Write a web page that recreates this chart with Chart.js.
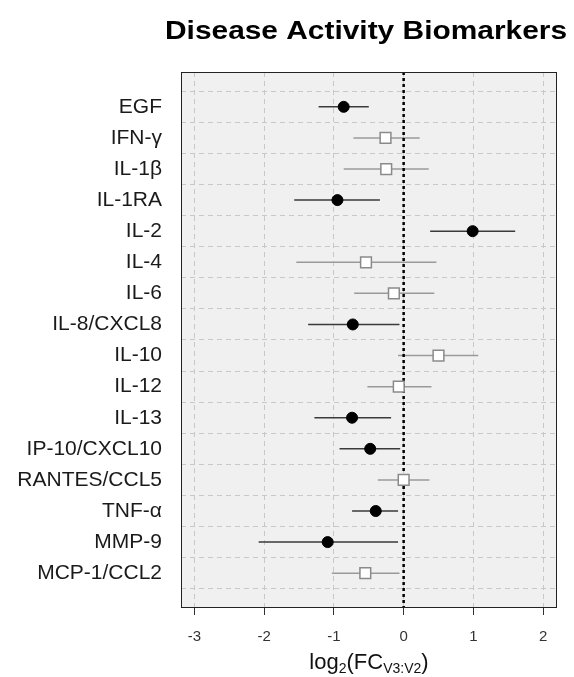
<!DOCTYPE html>
<html>
<head>
<meta charset="utf-8">
<script src="https://cdn.jsdelivr.net/npm/chart.js@4.4.1/dist/chart.umd.min.js"></script>
<style>
    html, body { margin: 0; padding: 0; background: #fff; }
    #wrap { position: relative; width: 574px; height: 677px; }
    #xlabel {
        position: absolute; left: 181px; width: 376px; top: 649px;
        text-align: center; font: 22px "Liberation Sans", Arial, sans-serif; color: #111;
    }
    #xlabel sub { font-size: 14px; vertical-align: -4px; }
</style>
</head>
<body>
<div id="wrap">
    <canvas id="chart" width="574" height="677"></canvas>
    <div id="xlabel">log<sub>2</sub>(FC<sub>V3:V2</sub>)</div>
</div>
<script>
// biomarkers, top to bottom
const categories = ['EGF', 'IFN-γ', 'IL-1β', 'IL-1RA', 'IL-2', 'IL-4', 'IL-6', 'IL-8/CXCL8',
    'IL-10', 'IL-12', 'IL-13', 'IP-10/CXCL10', 'RANTES/CCL5', 'TNF-α', 'MMP-9', 'MCP-1/CCL2'];
// log2 fold change and interval ends
const estimate = [-0.86, -0.26, -0.25, -0.95, 0.99, -0.54, -0.14, -0.73, 0.50, -0.07, -0.74, -0.48, 0.00, -0.40, -1.09, -0.55];
const lower = [-1.22, -0.72, -0.86, -1.57, 0.38, -1.54, -0.71, -1.37, -0.08, -0.52, -1.28, -0.92, -0.37, -0.74, -2.08, -1.03];
const upper = [-0.50, 0.23, 0.36, -0.34, 1.60, 0.47, 0.44, -0.06, 1.07, 0.40, -0.18, -0.05, 0.37, -0.08, -0.08, -0.06];
const significant = [1, 0, 0, 1, 1, 0, 0, 1, 0, 0, 1, 1, 0, 1, 1, 0];
const xTicks = [-3, -2, -1, 0, 1, 2];

const TITLE = 'Disease Activity Biomarkers';
const X_MIN = -3.194, X_MAX = 2.20;
const Y_MIN = -0.12, Y_MAX = 17.12;
const FONT = '"Liberation Sans", Arial, sans-serif';

// error bar segments, broken with null gaps
function barSegments(flag) {
    const pts = [];
    categories.forEach((c, i) => {
        if (significant[i] !== flag) return;
        pts.push({ x: lower[i], y: i + 1 }, { x: upper[i], y: i + 1 }, { x: upper[i], y: null });
    });
    return pts;
}

function markers(flag) {
    return categories
        .map((c, i) => ({ x: estimate[i], y: i + 1, sig: significant[i] }))
        .filter(p => p.sig === flag);
}

// grey panel, black box and the (slightly wide) bold title
const panelPlugin = {
    id: 'panel',
    beforeDraw(chart) {
        const { ctx, chartArea: a } = chart;
        ctx.save();
        ctx.fillStyle = '#f0f0f0';
        ctx.fillRect(a.left, a.top, a.right - a.left, a.bottom - a.top);
        ctx.restore();
    },
    afterDraw(chart) {
        const { ctx, chartArea: a } = chart;
        ctx.save();
        ctx.strokeStyle = '#222';
        ctx.lineWidth = 1;
        ctx.strokeRect(a.left + 0.5, a.top + 0.5, a.right - a.left - 1, a.bottom - a.top - 1);

        ctx.font = 'bold 25px ' + FONT;
        ctx.fillStyle = '#000';
        ctx.textAlign = 'center';
        ctx.textBaseline = 'alphabetic';
        const w = ctx.measureText(TITLE).width;
        const sx = 402 / w;
        ctx.translate((a.left + a.right) / 2 - 3, 39);
        ctx.scale(sx, 1);
        ctx.fillText(TITLE, 0, 0);
        ctx.restore();
    }
};

new Chart(document.getElementById('chart'), {
    type: 'scatter',
    data: {
        datasets: [
            {
                data: markers(1),
                pointStyle: 'circle',
                pointRadius: 5.5,
                pointBackgroundColor: '#000',
                pointBorderColor: '#000',
                pointBorderWidth: 1,
                order: 0
            },
            {
                data: markers(0),
                pointStyle: 'rect',
                pointRadius: 7.6,
                pointBackgroundColor: '#fff',
                pointBorderColor: '#8a8a8a',
                pointBorderWidth: 1.5,
                order: 0
            },
            {
                data: [{ x: 0, y: Y_MIN }, { x: 0, y: Y_MAX }],
                showLine: true,
                borderColor: '#000',
                borderWidth: 2.5,
                borderDash: [3, 3],
                pointRadius: 0,
                order: 1
            },
            {
                data: barSegments(1),
                showLine: true,
                spanGaps: false,
                borderColor: '#3a3a3a',
                borderWidth: 1.5,
                pointRadius: 0,
                order: 2
            },
            {
                data: barSegments(0),
                showLine: true,
                spanGaps: false,
                borderColor: '#9a9a9a',
                borderWidth: 1.5,
                pointRadius: 0,
                order: 2
            }
        ]
    },
    options: {
        responsive: false,
        animation: false,
        devicePixelRatio: 1,
        layout: { padding: { left: 0, right: 17, top: 72, bottom: 0 } },
        plugins: {
            legend: { display: false },
            tooltip: { enabled: false },
            title: { display: false }
        },
        scales: {
            x: {
                type: 'linear',
                min: X_MIN,
                max: X_MAX,
                afterBuildTicks: scale => { scale.ticks = xTicks.map(v => ({ value: v })); },
                afterFit: scale => { scale.height = 69; },
                border: { display: false, dash: [5, 4] },
                grid: {
                    color: '#c8c8c8',
                    lineWidth: 1,
                    drawTicks: true,
                    tickLength: 7,
                    tickColor: '#333',
                    tickBorderDash: [],
                    tickWidth: 1
                },
                ticks: {
                    color: '#333',
                    padding: 13,
                    font: { family: FONT, size: 15 }
                }
            },
            y: {
                type: 'linear',
                reverse: true,
                min: Y_MIN,
                max: Y_MAX,
                afterBuildTicks: scale => { scale.ticks = categories.map((c, i) => ({ value: i + 1 })); },
                afterFit: scale => { scale.width = 181; },
                border: { display: false, dash: [5, 4] },
                grid: {
                    offset: true,
                    color: '#c8c8c8',
                    lineWidth: 1,
                    drawTicks: false
                },
                ticks: {
                    color: '#1a1a1a',
                    padding: 19,
                    autoSkip: false,
                    font: { family: FONT, size: 21 },
                    callback: v => categories[v - 1]
                }
            }
        }
    },
    plugins: [panelPlugin]
});
</script>
</body>
</html>
